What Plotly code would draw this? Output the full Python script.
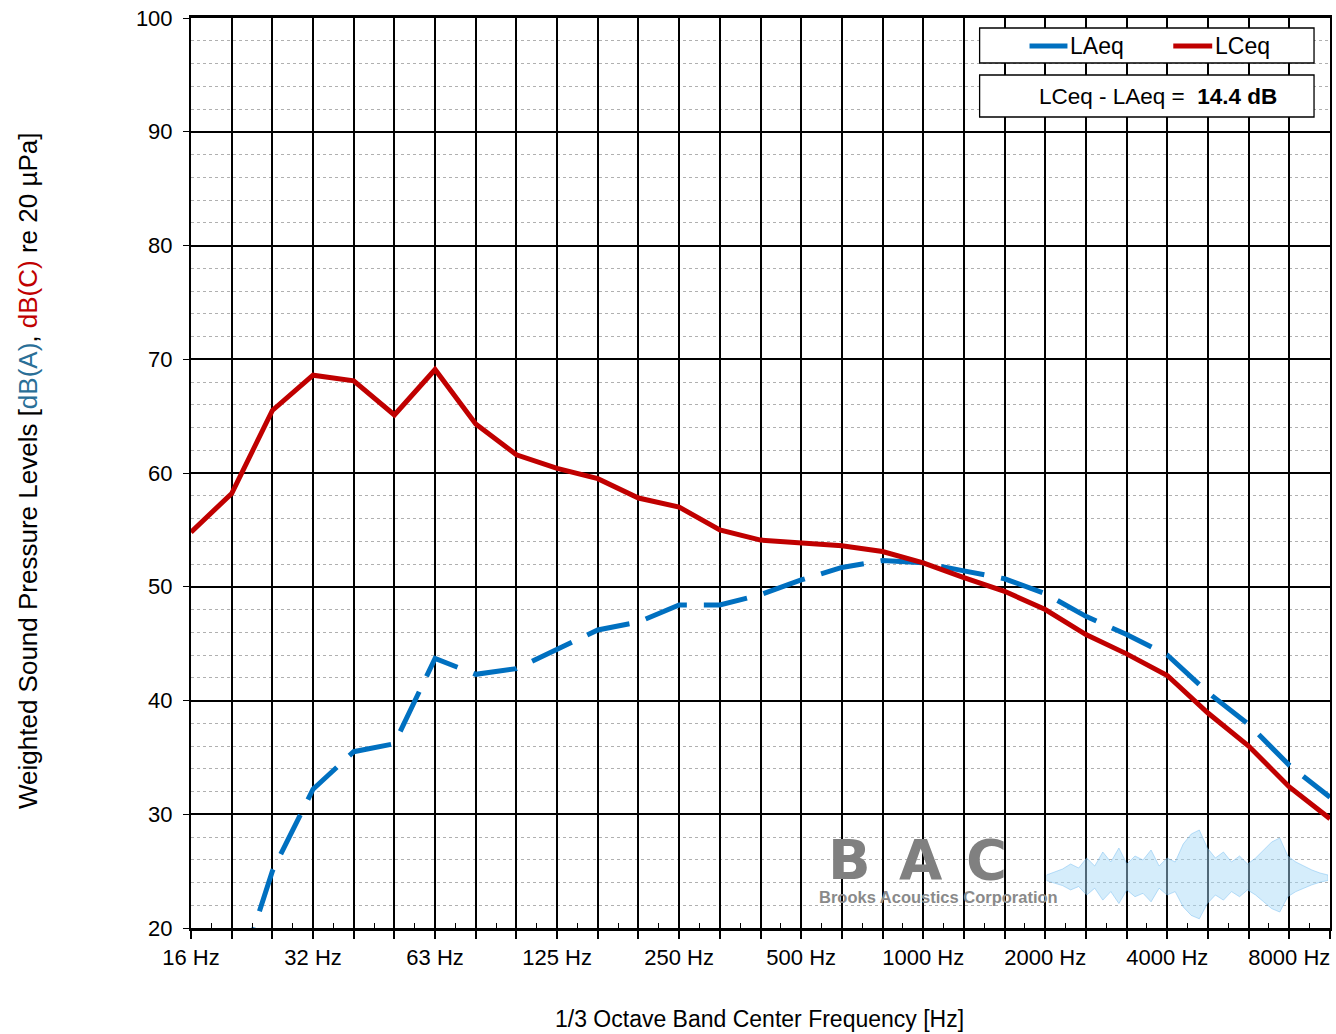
import plotly.graph_objects as go

bands = ["16", "20", "25", "31.5", "40", "50", "63", "80", "100", "125", "160", "200",
         "250", "315", "400", "500", "630", "800", "1000", "1250", "1600", "2000",
         "2500", "3150", "4000", "5000", "6300", "8000", "10000"]
lceq = [54.8, 58.2, 65.5, 68.6, 68.1, 65.1, 69.1, 64.3, 61.6, 60.4, 59.5, 57.8,
        57.0, 55.0, 54.1, 53.8, 53.6, 53.1, 52.1, 50.8, 49.6, 48.0,
        45.8, 44.1, 42.2, 38.9, 36.0, 32.4, 29.6]
laeq = [6.6, 13.9, 25.0, 32.2, 35.5, 36.2, 43.7, 42.3, 42.8, 44.5, 46.2, 46.9,
        48.4, 48.4, 49.3, 50.6, 51.7, 52.3, 52.1, 51.4, 50.7, 49.4,
        47.4, 45.8, 44.0, 40.7, 37.9, 34.3, 31.5]
label_text = ["16 Hz", "", "", "32 Hz", "", "", "63 Hz", "", "", "125 Hz", "", "",
              "250 Hz", "", "", "500 Hz", "", "", "1000 Hz", "", "", "2000 Hz", "", "",
              "4000 Hz", "", "", "8000 Hz", ""]
yticks = [20, 30, 40, 50, 60, 70, 80, 90, 100]

W, H = 1336, 1034
L, R, T, B = 191, 1332, 18, 928
FONT = "Liberation Sans, Arial, sans-serif"


def px(x):
    return (x - L) / (R - L)


def py(y):
    return (B - y) / (B - T)


xs = list(range(len(bands)))

fig = go.Figure()
fig.add_trace(go.Scatter(x=xs, y=laeq, mode="lines", name="LAeq",
                         line=dict(color="#0070c0", width=5, dash="44px,17px"),
                         showlegend=False, hovertext=[b + " Hz" for b in bands]))
fig.add_trace(go.Scatter(x=xs, y=lceq, mode="lines", name="LCeq",
                         line=dict(color="#c00000", width=5),
                         showlegend=False, hovertext=[b + " Hz" for b in bands]))

fig.update_xaxes(range=[0, len(bands) - 1], tickmode="array", tickvals=xs, ticktext=label_text,
                 showgrid=True, gridcolor="#000000", gridwidth=1.7,
                 showline=True, linecolor="#000000", linewidth=2.5, mirror=True,
                 ticks="outside", ticklen=8, tickcolor="#000000", tickwidth=1.5,
                 tickfont=dict(family=FONT, size=22, color="#000000"),
                 minor=dict(tick0=0.5, dtick=1, ticks="inside", ticklen=5,
                            tickcolor="#000000", tickwidth=1, showgrid=False),
                 zeroline=False, fixedrange=True)
fig.update_yaxes(range=[20, 100], tickmode="array", tickvals=yticks,
                 showgrid=True, gridcolor="#000000", gridwidth=1.7,
                 showline=True, linecolor="#000000", linewidth=2, mirror=True,
                 ticks="outside", ticklen=6, tickcolor="#000000",
                 tickfont=dict(family=FONT, size=22, color="#000000"),
                 ticklabelstandoff=6,
                 minor=dict(dtick=2, showgrid=True, gridcolor="#b0b0b0", gridwidth=1,
                            griddash="dot", ticks=""),
                 zeroline=False, fixedrange=True)

shapes = []
annotations = []

# Legend box 1
shapes.append(dict(type="rect", xref="paper", yref="paper", x0=px(981), x1=px(1316),
                   y0=py(63), y1=py(28), fillcolor="white", line=dict(color="#000000", width=1.3),
                   layer="above"))
shapes.append(dict(type="line", xref="paper", yref="paper", x0=px(1031), x1=px(1069),
                   y0=py(46), y1=py(46), line=dict(color="#0070c0", width=5), layer="above"))
shapes.append(dict(type="line", xref="paper", yref="paper", x0=px(1175), x1=px(1214),
                   y0=py(46), y1=py(46), line=dict(color="#c00000", width=5), layer="above"))
annotations.append(dict(text="LAeq", xref="paper", yref="paper", x=px(1070), y=py(46),
                        xanchor="left", yanchor="middle", showarrow=False,
                        font=dict(family=FONT, size=23, color="#000000")))
annotations.append(dict(text="LCeq", xref="paper", yref="paper", x=px(1215), y=py(46),
                        xanchor="left", yanchor="middle", showarrow=False,
                        font=dict(family=FONT, size=23, color="#000000")))
# Legend box 2
shapes.append(dict(type="rect", xref="paper", yref="paper", x0=px(981), x1=px(1316),
                   y0=py(117), y1=py(75), fillcolor="white", line=dict(color="#000000", width=1.3),
                   layer="above"))
annotations.append(dict(text="LCeq - LAeq =  <b>14.4 dB</b>", xref="paper", yref="paper",
                        x=px(1038), y=py(96), xanchor="left", yanchor="middle", showarrow=False,
                        font=dict(family=FONT, size=22.5, color="#000000")))

# Axis titles
annotations.append(dict(text="Weighted Sound Pressure Levels [<span style='color:#2a6f97'>dB(A)</span>, "
                             "<span style='color:#c00000'>dB(C)</span> re 20 µPa]",
                        xref="paper", yref="paper", x=0, y=py(471), xshift=-163,
                        xanchor="center", yanchor="middle", textangle=-90, showarrow=False,
                        font=dict(family=FONT, size=26, color="#000000")))
annotations.append(dict(text="1/3 Octave Band Center Frequency [Hz]", xref="paper", yref="paper",
                        x=px(760), y=0, yshift=-91, xanchor="center", yanchor="middle",
                        showarrow=False, font=dict(family=FONT, size=23, color="#000000")))

# Watermark logo (decorative)
for letter, cx in (("B", 851), ("A", 922), ("C", 988)):
    annotations.append(dict(text=f"<b>{letter}</b>", xref="paper", yref="paper", x=px(cx), y=py(894),
                            xanchor="center", yanchor="bottom", showarrow=False,
                            font=dict(family="DejaVu Sans, sans-serif", size=56, color="#808080")))
annotations.append(dict(text="<b>Brooks Acoustics Corporation</b>", xref="paper", yref="paper",
                        x=px(818), y=py(886), xanchor="left", yanchor="top", showarrow=False,
                        font=dict(family=FONT, size=16.5, color="#8a8a8a")))

# Decorative waveform image for logo (SVG data URI)
spikes = [3, 6, 9, 14, 10, 20, 12, 26, 16, 30, 14, 22, 18, 28, 12, 20, 16, 34, 44, 48, 30, 20,
          26, 16, 22, 14, 20, 28, 36, 40, 22, 16, 12, 8, 5, 3]
n = len(spikes)
wv, hv = 280, 100
pts_top = []
pts_bot = []
for i, s in enumerate(spikes):
    xx = i * wv / (n - 1)
    pts_top.append(f"{xx:.1f},{52 - s:.1f}")
    pts_bot.append(f"{xx:.1f},{52 + s * 0.85:.1f}")
poly = " ".join(pts_top + pts_bot[::-1])
svg = (f"<svg xmlns='http://www.w3.org/2000/svg' width='{wv}' height='{hv}' viewBox='0 0 {wv} {hv}'>"
       f"<polygon points='{poly}' fill='#a9dbf8' fill-opacity='0.6' stroke='#5ab0ee' stroke-width='0.5'/>"
       f"</svg>")
src = "data:image/svg+xml;utf8," + svg.replace("<", "%3C").replace(">", "%3E").replace("#", "%23")

fig.add_layout_image(dict(source=src, xref="paper", yref="paper", x=px(1048), y=py(826),
                          sizex=px(1330) - px(1048), sizey=py(826) - py(926),
                          xanchor="left", yanchor="top", sizing="stretch", layer="above",
                          opacity=0.8))

fig.update_layout(width=W, height=H, margin=dict(l=L, r=W - R, t=T, b=H - B),
                  paper_bgcolor="white", plot_bgcolor="white",
                  shapes=shapes, annotations=annotations, showlegend=False,
                  font=dict(family=FONT, size=20, color="#000000"))

fig.write_html("out.html", config={"displayModeBar": False},
               post_script="document.body.style.margin='0';document.body.style.padding='0';"
                           "document.documentElement.style.overflow='hidden';")
